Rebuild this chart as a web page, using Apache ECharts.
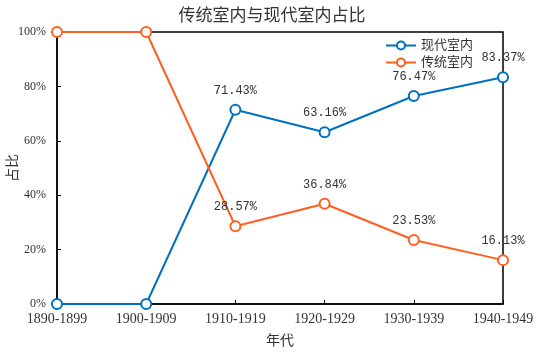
<!DOCTYPE html>
<html>
<head>
<meta charset="utf-8">
<script src="https://cdn.jsdelivr.net/npm/echarts@6/dist/echarts.min.js"></script>
<style>
  html, body { margin: 0; padding: 0; background: #fff; }
  #chart { width: 544px; height: 356px; }
</style>
</head>
<body>
<div id="chart"></div>
<script>
const categories = ['1890-1899', '1900-1909', '1910-1919', '1920-1929', '1930-1939', '1940-1949']
const modernValues = [0, 0, 71.43, 63.16, 76.47, 83.37]
const traditionalValues = [100, 100, 28.57, 36.84, 23.53, 16.13]
const yTicks = [0, 20, 40, 60, 80, 100]

const serif = '"Liberation Serif", "Noto Sans CJK SC", serif'
const mono = '"Liberation Mono", "Noto Sans CJK SC", monospace'

// labels only for the points after 1900s
const labelFor = (i) => ({ show: i >= 2 })

const myChart = echarts.init(document.getElementById('chart'))
const option = {
  animation: false,
  title: {
    text: '传统室内与现代室内占比',
    left: 'center',
    top: 3,
    textStyle: { fontFamily: serif, fontSize: 17, fontWeight: 'normal', color: '#333' }
  },
  legend: {
    data: ['现代室内', '传统室内'],
    orient: 'vertical',
    left: 380,
    top: 34,
    itemWidth: 30,
    itemHeight: 10,
    itemGap: 4,
    textStyle: { fontFamily: serif, fontSize: 13, color: '#333' }
  },
  grid: {
    left: 57,
    right: 41,
    top: 32,
    bottom: 52,
    outerBoundsMode: 'none',
    show: true,
    borderColor: '#000',
    borderWidth: 1.5
  },
  xAxis: {
    type: 'category',
    data: categories,
    boundaryGap: false,
    name: '年代',
    nameLocation: 'middle',
    nameGap: 30,
    nameTextStyle: { fontFamily: serif, fontSize: 14, color: '#333' },
    axisLine: { lineStyle: { color: '#000', width: 1.5 } },
    axisTick: { inside: true, length: 4, lineStyle: { color: '#000' } },
    axisLabel: { fontFamily: serif, fontSize: 14, color: '#333', margin: 8, interval: 0 },
    splitLine: { show: false }
  },
  yAxis: {
    type: 'value',
    min: 0,
    max: 100,
    interval: 20,
    name: '占比',
    nameLocation: 'middle',
    nameGap: 37,
    nameMoveOverlap: false,
    nameTextStyle: { fontFamily: serif, fontSize: 14, color: '#333' },
    axisLine: { show: true, lineStyle: { color: '#000', width: 1.5 } },
    axisTick: { show: true, inside: true, length: 4, lineStyle: { color: '#000' } },
    axisLabel: {
      fontFamily: serif, fontSize: 12, color: '#333', margin: 11,
      formatter: v => (yTicks.includes(v) ? v + '%' : '')
    },
    splitLine: { show: false }
  },
  series: [
    {
      name: '现代室内',
      type: 'line',
      data: modernValues.map((v, i) => ({ value: v, label: labelFor(i) })),
      symbol: 'emptyCircle',
      symbolSize: 10,
      color: '#0070C0',
      lineStyle: { width: 2 },
      itemStyle: { borderWidth: 2 },
      label: {
        position: 'top',
        distance: 7,
        fontFamily: mono,
        fontSize: 12,
        color: '#333',
        formatter: p => p.value.toFixed(2) + '%'
      }
    },
    {
      name: '传统室内',
      type: 'line',
      data: traditionalValues.map((v, i) => ({ value: v, label: labelFor(i) })),
      symbol: 'emptyCircle',
      symbolSize: 10,
      color: '#FF5F1F',
      lineStyle: { width: 2 },
      itemStyle: { borderWidth: 2 },
      label: {
        position: 'top',
        distance: 7,
        fontFamily: mono,
        fontSize: 12,
        color: '#333',
        formatter: p => p.value.toFixed(2) + '%'
      }
    }
  ]
}
myChart.setOption(option)
</script>
</body>
</html>
